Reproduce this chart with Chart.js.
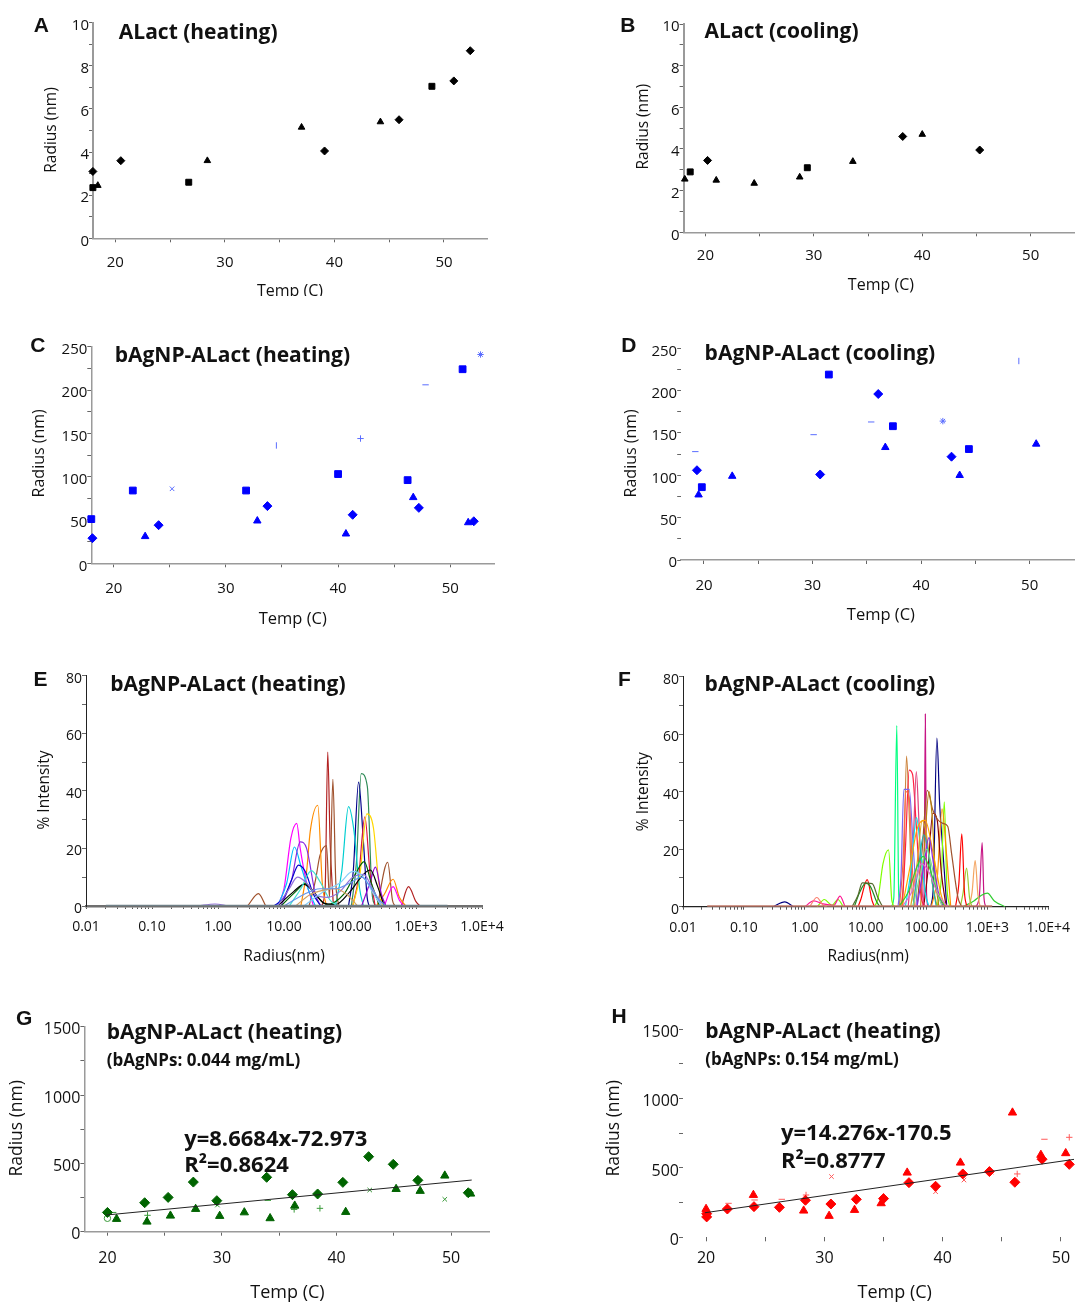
<!DOCTYPE html>
<html>
<head>
<meta charset="utf-8">
<script src="https://cdn.jsdelivr.net/npm/chart.js@4.4.1/dist/chart.umd.min.js"></script>
<style>
html, body { margin: 0; padding: 0; background: #fff; }
#page { position: relative; width: 1080px; height: 1304px; overflow: hidden; background: #fff; }
#page canvas { position: absolute; left: 0; top: 0; }
</style>
</head>
<body>
<div id="page"></div>
<script>
// ---- tick values / labels ----
const tempTicks = [20, 25, 30, 35, 40, 45, 50];
const smallRadiusTicks = [0, 1, 2, 3, 4, 5, 6, 7, 8, 9, 10];
const nanoRadiusTicks = [0, 25, 50, 75, 100, 125, 150, 175, 200, 225, 250];
const bigRadiusTicks = [0, 250, 500, 750, 1000, 1250, 1500];
const intensityTicks = [0, 10, 20, 30, 40, 50, 60, 70, 80];
const decadeTicks = [0.01, 0.1, 1, 10, 100, 1000, 10000];
const decadeLabels = ['0.01', '0.10', '1.00', '10.00', '100.00', '1.0E+3', '1.0E+4'];

// ---- A: ALact heating, [temp, radius nm] ----
const aDiamond = [[17.95, 3.1], [20.5, 3.6], [39.1, 4.05], [45.9, 5.5], [50.9, 7.3], [52.4, 8.7]];
const aSquare = [[17.95, 2.75], [17.95, 2.35], [26.7, 2.6], [48.9, 7.05]];
const aTriangle = [[18.4, 2.45], [28.4, 3.6], [37.0, 5.15], [44.2, 5.4]];

// ---- B: ALact cooling ----
const bDiamond = [[20.2, 3.45], [38.2, 4.6], [45.3, 3.95]];
const bSquare = [[18.6, 2.9], [29.4, 3.1]];
const bTriangle = [[18.1, 2.55], [21.0, 2.5], [24.5, 2.35], [28.7, 2.65], [33.6, 3.4], [40.0, 4.7]];

// ---- C: bAgNP-ALact heating ----
const cSquare = [[18.0, 51], [21.7, 84], [31.8, 84], [40.0, 103], [46.2, 96], [51.1, 224]];
const cDiamond = [[18.1, 29], [24.0, 44], [33.7, 66], [41.3, 56], [47.2, 64], [52.1, 48.5]];
const cTriangle = [[22.8, 31], [32.8, 49], [40.7, 34], [46.7, 76], [51.6, 47]];
const cMinor = [[25.2, 86], [34.5, 136], [42.0, 144], [47.8, 206], [52.7, 241]];

// ---- D: bAgNP-ALact cooling ----
const dDiamond = [[19.35, 106], [30.7, 101], [36.05, 196], [42.8, 122]];
const dSquare = [[19.8, 86], [31.5, 219], [37.4, 158], [44.4, 131]];
const dTriangle = [[19.5, 77], [22.6, 99], [36.7, 133], [43.55, 100], [50.6, 137]];
const dMinor = [[19.2, 128], [30.1, 148], [35.4, 163], [42.0, 164], [49.0, 235]];

// ---- E: size distributions, heating [radius nm, % intensity] ----
const eFirebrick = [[37, 0], [42, 6], [46, 53.5], [50, 22], [56, 0]];
const eFirebrickTail = [[600, 0], [770, 6.7], [1000, 1.5], [1150, 0]];
const eSienna = [[24, 0], [30, 9], [35, 17.5], [44, 21], [49, 3], [55, 44], [61, 8], [68, 0]];
const eSiennaSmall = [[2.8, 0], [4.1, 4.3], [5.3, 0]];
const eSiennaTail = [[260, 0], [372, 15.2], [440, 2], [480, 0]];
const eOrange = [[18, 0], [22, 12], [25, 26], [32.5, 35], [38, 8], [44, 0]];
const eOrangeTail = [[250, 0], [330, 4], [450, 9.3], [560, 3], [700, 0]];
const eNavy = [[95, 0], [112, 12], [135, 43], [160, 22], [182, 3], [195, 0]];
const eSeaGreen = [[105, 0], [125, 15], [148, 46], [183, 41.5], [215, 5], [240, 0]];
const eTurquoise = [[60, 0], [75, 12], [95, 34.5], [115, 26], [140, 6], [160, 0]];
const eSkyBlue = [[8, 0], [11, 8], [14.4, 20.5], [18, 14], [24, 5], [30, 0]];
const eGold = [[110, 0], [140, 10], [180, 32], [227, 27], [270, 9], [310, 0]];
const eMagenta = [[8, 0], [10, 6], [12.7, 23.5], [15.6, 28.7], [17.6, 20], [22, 8], [28, 0]];
const eMagentaTail = [[330, 0], [450, 6.7], [560, 2], [650, 0]];
const eViolet = [[9, 0], [13, 9], [17.6, 22.3], [22, 20], [30, 4], [36, 0]];
const eVioletTail = [[150, 0], [200, 8], [243, 13.5], [300, 4], [350, 0]];
const eBlue = [[7, 0], [10, 3], [13, 9], [16.6, 14.2], [21, 12], [28, 4], [36, 0]];
const eBlack = [[8, 0], [14, 5], [20, 7.5], [28, 5], [40, 1], [60, 0.5], [100, 5], [160, 11], [204, 12.5], [260, 7], [330, 0]];
const eDarkGreen = [[9, 0], [15, 5], [21, 7.8], [30, 4], [45, 0.5], [80, 4], [120, 11], [164, 15.4], [210, 8], [280, 0]];
const eLightSea = [[12, 0], [18, 6], [26, 12.3], [36, 8], [50, 2], [65, 0]];
const ePurple = [[8, 0], [12, 6], [16, 10], [22, 8], [30, 4], [45, 3], [70, 5], [110, 10], [160, 11], [220, 6], [300, 0]];
const eCorn = [[10, 0], [20, 4], [35, 6], [60, 6], [100, 8], [150, 10], [200, 7], [280, 2], [350, 0]];
const eTan = [[15, 0], [25, 4], [40, 5.5], [60, 6], [90, 4], [130, 0]];
const eLightBlue = [[20, 0], [40, 5], [70, 8], [110, 12], [160, 10], [230, 4], [300, 0]];
const eCrimson = [[110, 0], [135, 10], [168, 31], [200, 12], [240, 0]];
const eSmall = [[0.5, 0], [0.9, 0.7], [1.4, 0]];
const eBaseline = [[0.02, 0], [3000, 0]];

// ---- F: size distributions, cooling ----
const fSpringGreen = [[26, 0], [29, 3], [32.5, 63], [35, 4], [38, 0]];
const fVioletRed = [[85, 0], [91, 4], [95.7, 67], [100, 5], [106, 0]];
const fVioletRedTail = [[650, 0], [740, 4], [820, 22.3], [880, 3], [950, 0]];
const fNavy = [[118, 0], [130, 8], [148, 58.6], [165, 35], [185, 20], [215, 0]];
const fNavySmall = [[0.3, 0], [0.47, 1.7], [0.65, 0]];
const fPeru = [[38, 0], [42, 10], [47, 52.4], [52, 32], [57, 8], [63, 0]];
const fDarkOrange = [[120, 0], [150, 10], [180, 34], [210, 20], [250, 0]];
const fCrimson = [[40, 0], [45, 20], [52, 47.5], [59, 46], [68, 28], [80, 5], [90, 0]];
const fSlateBlue = [[34, 0], [38, 10], [42.5, 40.8], [52, 40.8], [60, 22], [70, 0]];
const fSienna = [[70, 0], [85, 20], [103, 40.5], [127, 33.6], [150, 30.5], [185, 29], [223, 28], [260, 18], [330, 3], [380, 0]];
const fChartreuse = [[14, 0], [16, 3], [19.3, 15], [23.8, 19.8], [27, 2], [30, 0]];
const fChartreuseRight = [[150, 0], [175, 10], [196, 36.5], [215, 8], [240, 0]];
const fRed = [[7.5, 0], [8.3, 2.4], [10.6, 9.4], [12.8, 2], [14, 0]];
const fRedTail = [[300, 0], [340, 8], [380, 25.3], [420, 5], [460, 0]];
const fOlive = [[6, 0], [7.5, 4], [8.8, 8.3], [12.8, 8], [16, 3], [19, 0]];
const fForest = [[6.5, 0], [8, 5], [10, 8.2], [12, 7], [15, 2], [17, 0]];
const fGreen = [[35, 0], [50, 5], [70, 14], [88, 17.5], [110, 14], [150, 5], [200, 0]];
const fCyan = [[45, 0], [55, 12], [68.5, 31], [80, 20], [95, 5], [110, 0]];
const fOrchid = [[40, 0], [60, 6], [82, 15], [110, 12], [150, 5], [220, 0]];
const fDarkRed = [[90, 0], [105, 12], [127, 32.5], [150, 30], [175, 12], [210, 0]];
const fOrange = [[40, 0], [55, 15], [70, 27], [95, 30], [130, 18], [170, 5], [200, 0]];
const fGoldenrod = [[55, 0], [70, 15], [85, 30], [100, 25], [125, 8], [150, 0]];
const fTomato = [[36, 0], [41, 15], [46, 40], [52, 38], [58, 15], [65, 0]];
const fRose = [[50, 0], [60, 20], [68, 47], [75, 30], [85, 5], [95, 0]];
const fDarkGold = [[80, 0], [95, 25], [110, 40], [125, 30], [140, 10], [160, 0]];
const fTeal = [[60, 0], [75, 15], [90, 25], [105, 20], [125, 8], [145, 0]];
const fPurple = [[70, 0], [90, 14], [110, 24], [130, 15], [160, 4], [190, 0]];
const fPaleGreen = [[60, 0], [80, 12], [100, 20], [120, 15], [150, 5], [180, 0]];
const fLime = [[400, 0], [600, 2], [800, 4], [1000, 4.7], [1300, 2], [1950, 0]];
const fSandy = [[500, 0], [560, 5], [630, 16], [700, 4], [760, 0]];
const fYellowGreen = [[360, 0], [400, 5], [455, 13.4], [510, 3], [560, 0]];
const fSalmon = [[1.2, 0], [1.58, 3.2], [2, 0.5], [2.3, 0]];
const fPink = [[1, 0], [1.4, 2], [2, 1], [3, 0.5], [3.8, 3.7], [4.6, 0]];
const fLawn = [[1.6, 0], [2.1, 2.5], [2.8, 0.5], [3.5, 2.5], [4.3, 0]];
const fBaseline = [[0.025, 0], [1200, 0]];

// ---- G: 0.044 mg/mL heating ----
const gDiamond = [[20.0, 141], [23.25, 212], [25.3, 251], [27.5, 363], [29.55, 227], [33.9, 398], [36.15, 271], [38.35, 276], [40.55, 361], [42.8, 549], [44.95, 493], [47.1, 376], [51.5, 285]];
const gTriangle = [[20.8, 93], [23.45, 73], [25.5, 117], [27.7, 166], [29.8, 115], [31.95, 141], [34.2, 98], [36.35, 190], [40.8, 144], [45.2, 312], [47.3, 298], [49.45, 410], [51.7, 278]];
const gMinor = [[20.5, 141], [20.0, 98], [23.5, 120], [29.6, 195], [34.0, 229], [36.3, 163], [38.55, 171], [42.9, 305], [49.45, 237]];
const gTrend = [[19.9, 122], [51.8, 378]];

// ---- H: 0.154 mg/mL heating ----
const hTriangle = [[20.0, 204], [24.0, 305], [28.25, 192], [30.4, 154], [32.55, 197], [34.8, 245], [37.0, 466], [41.5, 538], [45.9, 899], [48.3, 594], [50.4, 606]];
const hDiamond = [[20.05, 147], [20.05, 170], [21.8, 204], [24.05, 221], [26.2, 216], [28.4, 267], [30.55, 240], [32.7, 274], [35.0, 279], [37.15, 394], [39.4, 368], [41.7, 457], [43.95, 474], [46.1, 397], [48.4, 563], [50.7, 526]];
const hMinor = [[21.9, 245], [24.1, 269], [26.4, 274], [28.45, 305], [30.6, 438], [35.0, 293], [39.4, 329], [41.8, 413], [44.1, 470], [46.3, 457], [48.6, 707], [50.7, 721]];
const hTrend = [[19.9, 177], [51.1, 562]];

// ---- helpers ----
const W = 1080, H = 1304;
const SANS = '"Open Sans", "DejaVu Sans", sans-serif';
const F_LETTER = 'bold 21px "Liberation Sans", Arial, sans-serif';
const F_TITLE = 'bold 21px ' + SANS;
const F_EQ = 'bold 22px ' + SANS;
const F_SUB = 'bold 17px ' + SANS;

const xy = arr => arr.map(p => ({ x: p[0], y: p[1] }));

function marks(arr, style, color, r, more) {
  return Object.assign({
    data: xy(arr), showLine: false, pointStyle: style, pointRadius: r, pointHoverRadius: r,
    backgroundColor: color, borderColor: color, pointBorderWidth: 1, clip: false
  }, more || {});
}
function curve(arr, color, w) {
  return {
    data: xy(arr), showLine: true, borderColor: color, backgroundColor: color,
    borderWidth: w || 1.2, pointRadius: 0, cubicInterpolationMode: 'monotone'
  };
}
function trend(arr) {
  return { data: xy(arr), showLine: true, borderColor: '#222', borderWidth: 1, pointRadius: 0 };
}

function linAxis(min, max, values, every, o) {
  return {
    type: 'linear', min: min, max: max,
    afterBuildTicks: s => { s.ticks = values.map(v => ({ value: v })); },
    ticks: {
      autoSkip: false, maxRotation: 0, padding: o.pad, labelOffset: o.lo || 0,
      color: '#111', font: { family: SANS, size: o.fs || 15 },
      callback: v => (v % every === 0 ? String(v) : '')
    },
    grid: { drawOnChartArea: false, drawTicks: true, tickLength: o.tl || 4, color: o.tc || '#666', lineWidth: 1 },
    border: { display: o.line !== false, color: o.lc || '#9a9a9a', width: o.lw || 1.5 }
  };
}

const logTickValues = [];
for (let e = -2; e < 4; e++) {
  for (let m = 1; m < 10; m++) logTickValues.push(+(m * Math.pow(10, e)).toPrecision(3));
}
logTickValues.push(10000);

function logAxis(o) {
  return {
    type: 'logarithmic', min: 0.01, max: 10000,
    afterBuildTicks: s => { s.ticks = logTickValues.map(v => ({ value: v })); },
    ticks: {
      autoSkip: false, maxRotation: 0, padding: o.pad, color: '#111', font: { family: SANS, size: 14 },
      callback: v => {
        const i = decadeTicks.findIndex(t => Math.abs(Math.log10(t) - Math.log10(v)) < 1e-6);
        return i < 0 ? '' : decadeLabels[i];
      }
    },
    grid: { drawOnChartArea: false, drawTicks: true, tickLength: 3, color: '#555', lineWidth: 1 },
    border: { display: true, color: o.lc || '#666', width: o.lw || 2 }
  };
}

const panelText = {
  id: 'panelText',
  afterDraw(chart, args, opts) {
    const ctx = chart.ctx;
    (opts.items || []).forEach(it => {
      ctx.save();
      if (it.clip) { ctx.beginPath(); ctx.rect(0, 0, W, it.clip); ctx.clip(); }
      ctx.font = it.f;
      ctx.fillStyle = '#111';
      ctx.textAlign = it.a || 'left';
      ctx.textBaseline = 'middle';
      ctx.translate(it.x, it.y);
      if (it.rot) ctx.rotate(-Math.PI / 2);
      ctx.fillText(it.t, 0, 0);
      ctx.restore();
    });
  }
};

function makePanel(box, datasets, xAxis, yAxis, items) {
  const cv = document.createElement('canvas');
  cv.width = W; cv.height = H;
  document.getElementById('page').appendChild(cv);
  xAxis.afterFit = s => { s.height = H - box.b; };
  yAxis.afterFit = s => { s.width = box.l; };
  return new Chart(cv, {
    type: 'scatter',
    data: { datasets: datasets },
    plugins: [panelText],
    options: {
      responsive: false, animation: false, events: [],
      layout: { padding: { left: 0, top: box.t, right: W - box.r, bottom: 0 } },
      plugins: { legend: { display: false }, tooltip: { enabled: false }, panelText: { items: items } },
      scales: { x: xAxis, y: yAxis }
    }
  });
}

function axisTitles(yt, yx, yy, ys, xt, xx, xyy, xs, clip) {
  return [
    { t: yt, x: yx, y: yy, f: ys + 'px ' + SANS, a: 'center', rot: true },
    { t: xt, x: xx, y: xyy, f: xs + 'px ' + SANS, a: 'center', clip: clip }
  ];
}

const BLK = '#000';
const BLUE = '#0000ff';
const LBLUE = '#5a6dff';
const GREEN = '#006400';
const LGREEN = '#3a9a3a';
const RED = '#ff0000';
const LRED = '#ff5a5a';

// ---- A ----
makePanel({ l: 93, t: 22.7, r: 487, b: 238.3 }, [
  marks(aDiamond, 'rectRot', BLK, 4),
  marks(aSquare, 'rect', BLK, 4.2),
  marks(aTriangle, 'triangle', BLK, 3.8)
], linAxis(17.96, 53.93, tempTicks, 10, { pad: 11.5 }),
   linAxis(0, 10, smallRadiusTicks, 2, { pad: 0, lo: 3, lw: 2 }),
  [{ t: 'A', x: 41.3, y: 26.7, f: F_LETTER, a: 'center' },
   { t: 'ALact (heating)', x: 118.8, y: 33.3, f: F_TITLE }]
  .concat(axisTitles('Radius (nm)', 51.7, 130, 15.5, 'Temp (C)', 290, 291, 16, 296)));

// ---- B ----
makePanel({ l: 683.6, t: 24, r: 1080, b: 232.3 }, [
  marks(bDiamond, 'rectRot', BLK, 4),
  marks(bSquare, 'rect', BLK, 4.2),
  marks(bTriangle, 'triangle', BLK, 3.8)
], linAxis(17.99, 54.07, tempTicks, 10, { pad: 10.2 }),
   linAxis(0, 10, smallRadiusTicks, 2, { pad: 0, lo: 3, lw: 2 }),
  [{ t: 'B', x: 627.8, y: 26, f: F_LETTER, a: 'center' },
   { t: 'ALact (cooling)', x: 704.6, y: 32.3, f: F_TITLE }]
  .concat(axisTitles('Radius (nm)', 643.3, 126.7, 15.5, 'Temp (C)', 880.9, 285, 16)));

// ---- C ----
makePanel({ l: 91.3, t: 346.7, r: 494, b: 563.3 }, [
  marks(cSquare, 'rect', BLUE, 4.8),
  marks(cDiamond, 'rectRot', BLUE, 4.5),
  marks(cTriangle, 'triangle', BLUE, 4.3),
  marks(cMinor, ['crossRot', 'line', 'cross', 'line', 'star'], LBLUE, 3.2,
    { rotation: [0, 90, 0, 0, 0], backgroundColor: 'rgba(0,0,0,0)' })
], linAxis(18.0, 53.9, tempTicks, 10, { pad: 12.5 }),
   linAxis(0, 250, nanoRadiusTicks, 50, { pad: 0, lo: 3 }),
  [{ t: 'C', x: 37.9, y: 346.7, f: F_LETTER, a: 'center' },
   { t: 'bAgNP-ALact (heating)', x: 114.7, y: 356, f: F_TITLE }]
  .concat(axisTitles('Radius (nm)', 39.6, 453.3, 16, 'Temp (C)', 292.7, 619, 16.5)));

// ---- D ----
makePanel({ l: 681.2, t: 348.3, r: 1080, b: 560 }, [
  marks(dDiamond, 'rectRot', BLUE, 4.5),
  marks(dSquare, 'rect', BLUE, 4.8),
  marks(dTriangle, 'triangle', BLUE, 4.3),
  marks(dMinor, ['line', 'line', 'line', 'star', 'line'], LBLUE, 3.2,
    { rotation: [0, 0, 0, 0, 90], backgroundColor: 'rgba(0,0,0,0)' })
], linAxis(17.9, 54.1, tempTicks, 10, { pad: 12.5 }),
   linAxis(0, 250, nanoRadiusTicks, 50, { pad: 0, lo: 3, line: false }),
  [{ t: 'D', x: 628.8, y: 346.7, f: F_LETTER, a: 'center' },
   { t: 'bAgNP-ALact (cooling)', x: 704.6, y: 354, f: F_TITLE }]
  .concat(axisTitles('Radius (nm)', 631.3, 453.3, 16, 'Temp (C)', 880.9, 615, 16.5)));

// ---- E ----
makePanel({ l: 86, t: 675.7, r: 482, b: 906 }, [
  curve(eBaseline, '#6f7f86', 2.5),
  curve(eSmall, '#9370db'),
  curve(eSiennaSmall, '#a0522d'),
  curve(eCorn, '#6495ed'),
  curve(eTan, '#d2a060'),
  curve(eLightBlue, '#87cefa'),
  curve(ePurple, '#9370db'),
  curve(eLightSea, '#40e0d0'),
  curve(eBlack, '#000000'),
  curve(eDarkGreen, '#006400'),
  curve(eBlue, '#0000cd'),
  curve(eViolet, '#8a2be2'),
  curve(eVioletTail, '#9400d3'),
  curve(eSkyBlue, '#00bfff'),
  curve(eMagenta, '#ff00ff'),
  curve(eMagentaTail, '#ff00ff'),
  curve(eOrange, '#ff8c00'),
  curve(eOrangeTail, '#ff8c00'),
  curve(eSienna, '#a0522d'),
  curve(eSiennaTail, '#a0522d'),
  curve(eTurquoise, '#00ced1'),
  curve(eGold, '#ffd700'),
  curve(eCrimson, '#dc143c'),
  curve(eNavy, '#00008b'),
  curve(eSeaGreen, '#2e8b57'),
  curve(eFirebrick, '#b22222'),
  curve(eFirebrickTail, '#b22222')
], logAxis({ pad: 9.7, lc: '#6f6f6f', lw: 2.5 }),
   linAxis(0, 80, intensityTicks, 20, { pad: 0, lo: 3, lc: '#222', lw: 1, fs: 14 }),
  [{ t: 'E', x: 40.6, y: 680, f: F_LETTER, a: 'center' },
   { t: 'bAgNP-ALact (heating)', x: 110.2, y: 685, f: F_TITLE }]
  .concat(axisTitles('% Intensity', 44.8, 790, 15.5, 'Radius(nm)', 284.1, 956.7, 15.5)));

// ---- F ----
makePanel({ l: 683, t: 676.7, r: 1054.8, b: 906.7 }, [
  curve(fBaseline, '#c07868', 3),
  curve(fNavySmall, '#000080'),
  curve(fSalmon, '#fa8072'),
  curve(fPink, '#ff1493'),
  curve(fLawn, '#7cfc00'),
  curve(fOlive, '#556b2f'),
  curve(fForest, '#228b22'),
  curve(fRed, '#ff0000'),
  curve(fChartreuse, '#7fff00'),
  curve(fOrchid, '#da70d6'),
  curve(fGreen, '#32cd32'),
  curve(fPaleGreen, '#7ee08a'),
  curve(fPurple, '#8a2be2'),
  curve(fTeal, '#20b2aa'),
  curve(fOrange, '#ffa500'),
  curve(fGoldenrod, '#daa520'),
  curve(fCyan, '#00e5ee'),
  curve(fSlateBlue, '#7b68ee'),
  curve(fTomato, '#ff6347'),
  curve(fRose, '#e0407a'),
  curve(fCrimson, '#ff2040'),
  curve(fPeru, '#cd853f'),
  curve(fDarkGold, '#b8860b'),
  curve(fSienna, '#a0522d'),
  curve(fDarkRed, '#8b0000'),
  curve(fDarkOrange, '#ff8c00'),
  curve(fChartreuseRight, '#7fff00'),
  curve(fRedTail, '#ff0000'),
  curve(fYellowGreen, '#9acd32'),
  curve(fSandy, '#f4a460'),
  curve(fLime, '#32cd32'),
  curve(fVioletRedTail, '#c71585'),
  curve(fNavy, '#000080'),
  curve(fSpringGreen, '#00ff7f'),
  curve(fVioletRed, '#c71585')
], logAxis({ pad: 10, lc: '#222', lw: 1.2 }),
   linAxis(0, 80, intensityTicks, 20, { pad: 0, lo: 3, lc: '#222', lw: 1, fs: 14 }),
  [{ t: 'F', x: 624.4, y: 680, f: F_LETTER, a: 'center' },
   { t: 'bAgNP-ALact (cooling)', x: 704.6, y: 685, f: F_TITLE }]
  .concat(axisTitles('% Intensity', 643.3, 791.7, 15.5, 'Radius(nm)', 868.2, 956.7, 15.5)));

// ---- G ----
makePanel({ l: 84.4, t: 1026.7, r: 489.7, b: 1231.7 }, [
  trend(gTrend),
  marks(gDiamond, 'rectRot', GREEN, 5),
  marks(gTriangle, 'triangle', GREEN, 4.8),
  marks(gMinor, ['line', 'circle', 'cross', 'crossRot', 'line', 'cross', 'cross', 'crossRot', 'crossRot'], LGREEN, 3.2,
    { backgroundColor: 'rgba(0,0,0,0)' })
], linAxis(17.99, 53.37, tempTicks, 10, { pad: 13.5, fs: 16 }),
   linAxis(0, 1500, bigRadiusTicks, 500, { pad: 0, lo: 3, fs: 16 }),
  [{ t: 'G', x: 24.1, y: 1019.3, f: F_LETTER, a: 'center' },
   { t: 'bAgNP-ALact (heating)', x: 106.7, y: 1033.3, f: F_TITLE },
   { t: '(bAgNPs: 0.044 mg/mL)', x: 106.7, y: 1061, f: F_SUB },
   { t: 'y=8.6684x-72.973', x: 184.2, y: 1139.3, f: F_EQ },
   { t: 'R\u00b2=0.8624', x: 184.2, y: 1166, f: F_EQ }]
  .concat(axisTitles('Radius (nm)', 17.2, 1128.3, 17.5, 'Temp (C)', 287.5, 1293.3, 18)));

// ---- H ----
makePanel({ l: 683, t: 1029.3, r: 1080, b: 1237.3 }, [
  trend(hTrend),
  marks(hDiamond, 'rectRot', RED, 5),
  marks(hTriangle, 'triangle', RED, 4.8),
  marks(hMinor, ['line', 'line', 'line', 'cross', 'crossRot', 'cross', 'crossRot', 'crossRot', 'crossRot', 'cross', 'line', 'cross'], LRED, 3.2,
    { backgroundColor: 'rgba(0,0,0,0)' })
], linAxis(18.05, 51.1, tempTicks, 10, { pad: 8, fs: 16, line: false }),
   linAxis(0, 1500, bigRadiusTicks, 500, { pad: 0, lo: 3, fs: 16, line: false }),
  [{ t: 'H', x: 619.2, y: 1017.3, f: F_LETTER, a: 'center' },
   { t: 'bAgNP-ALact (heating)', x: 705.3, y: 1032.3, f: F_TITLE },
   { t: '(bAgNPs: 0.154 mg/mL)', x: 705.3, y: 1060, f: F_SUB },
   { t: 'y=14.276x-170.5', x: 781, y: 1133.3, f: F_EQ },
   { t: 'R\u00b2=0.8777', x: 781, y: 1161.7, f: F_EQ }]
  .concat(axisTitles('Radius (nm)', 614, 1128.3, 17.5, 'Temp (C)', 894.7, 1293.3, 18)));
</script>
</body>
</html>
